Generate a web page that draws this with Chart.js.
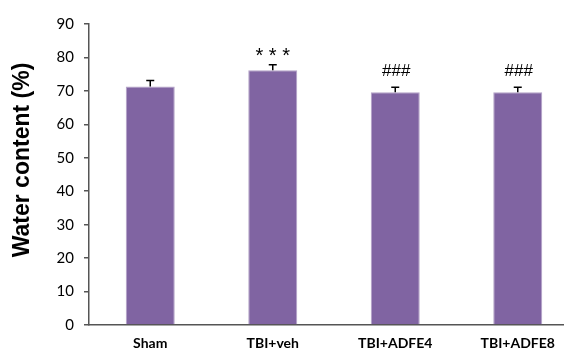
<!DOCTYPE html>
<html lang="en">
<head>
  <meta charset="UTF-8">
  <title>Water content</title>
  <script src="https://cdn.jsdelivr.net/npm/chart.js"></script>
  <style>
    body { margin: 0; overflow: hidden; background: #fff; }
    #wrap { width: 590px; height: 352px; }
  </style>
</head>
<body>
  <div id="wrap"><canvas id="waterChart"></canvas></div>

  <script>
    const groups = ['Sham', 'TBI+veh', 'TBI+ADFE4', 'TBI+ADFE8'];
    const waterContent = [71.3, 76.2, 69.6, 69.6];
    const errors = [1.8, 1.6, 1.5, 1.5];
    const marks = ['', '***', '###', '###'];
    const yTicks = [0, 10, 20, 30, 40, 50, 60, 70, 80, 90];

    const axisColor = '#555555';

    // y title drawn by hand so it can sit where the original has it
    const yTitle = {
      id: 'yTitle',
      afterDraw(chart) {
        const ctx = chart.ctx;
        ctx.save();
        ctx.translate(23, 160);
        ctx.rotate(-Math.PI / 2);
        ctx.font = 'bold 23px "Liberation Sans", Arial, sans-serif';
        ctx.fillStyle = '#000';
        ctx.textAlign = 'center';
        ctx.textBaseline = 'middle';
        ctx.fillText('Water content (%)', 0, 0);
        ctx.restore();
      }
    };

    // upper error bars + significance marks
    const errorBars = {
      id: 'errorBars',
      afterDatasetsDraw(chart) {
        const ctx = chart.ctx;
        const y = chart.scales.y;
        const meta = chart.getDatasetMeta(0);
        ctx.save();
        meta.data.forEach((bar, i) => {
          const top = y.getPixelForValue(waterContent[i] + errors[i]);
          ctx.strokeStyle = '#000';
          ctx.lineWidth = 1.5;
          ctx.beginPath();
          ctx.moveTo(bar.x, bar.y);
          ctx.lineTo(bar.x, top);
          ctx.moveTo(bar.x - 4, top);
          ctx.lineTo(bar.x + 4, top);
          ctx.stroke();

          if (marks[i]) {
            ctx.fillStyle = '#000';
            ctx.textAlign = 'center';
            ctx.textBaseline = 'middle';
            if (marks[i].startsWith('*')) {
              ctx.font = '20px "Liberation Sans", sans-serif';
              ctx.fillText(marks[i].split('').join(' '), bar.x, top - 8);
            } else {
              ctx.font = '17px "Liberation Sans", sans-serif';
              ctx.fillText(marks[i], bar.x + 1, top - 16);
            }
          }
        });
        ctx.restore();
      }
    };

    new Chart(document.getElementById('waterChart'), {
      type: 'bar',
      data: {
        labels: groups,
        datasets: [{
          data: waterContent,
          backgroundColor: '#8064A2',
          borderColor: '#B3A2C7',
          borderWidth: 1,
          barPercentage: 0.4,
          categoryPercentage: 1.0
        }]
      },
      options: {
        responsive: true,
        maintainAspectRatio: false,
        animation: false,
        layout: { padding: { top: 24, right: 11, left: 0, bottom: 0 } },
        plugins: {
          legend: { display: false },
          tooltip: { enabled: false }
        },
        scales: {
          x: {
            grid: { display: false, drawTicks: false },
            border: { display: true, color: axisColor, width: 1.5 },
            ticks: {
              color: '#000',
              padding: 10,
              font: { family: 'Lato', size: 14, weight: 'bold' }
            },
            afterFit(scale) { scale.height = 27; }
          },
          y: {
            min: 0,
            max: 90,
            afterBuildTicks(scale) { scale.ticks = yTicks.map(v => ({ value: v })); },
            grid: {
              display: true,
              drawOnChartArea: false,
              drawTicks: true,
              tickLength: 5,
              color: axisColor,
              lineWidth: 1.5
            },
            border: { display: true, color: axisColor, width: 1.5 },
            ticks: {
              color: '#000',
              padding: 10,
              font: { family: 'Lato', size: 15 }
            },
            afterFit(scale) { scale.width = 89; }
          }
        }
      },
      plugins: [yTitle, errorBars]
    });
  </script>
</body>
</html>
